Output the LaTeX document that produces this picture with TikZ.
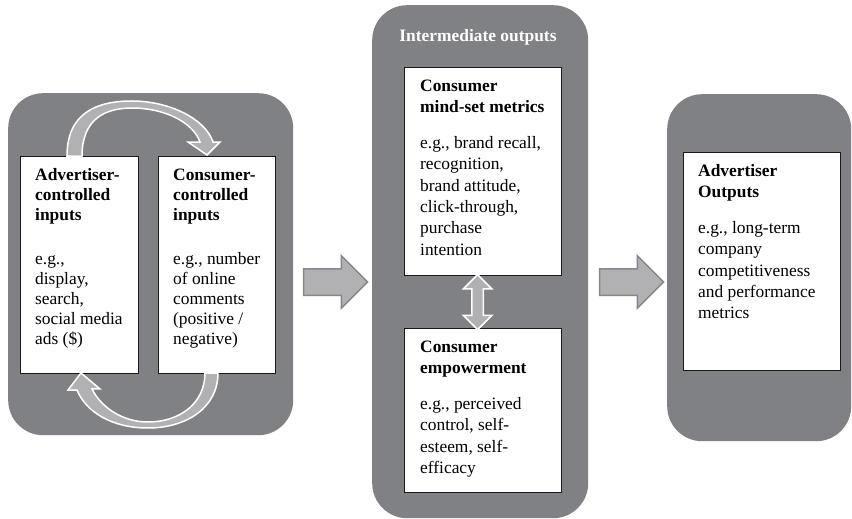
\documentclass[tikz,border=0pt]{standalone}
\usepackage{fontspec}
\setmainfont{Liberation Serif}
\usetikzlibrary{shapes.arrows,calc}
\newlength{\du}
\setlength{\du}{15\unitlength}

\begin{document}
\begin{tikzpicture}[x=1\du,y=-1\du,
  panel/.style={fill=panelcolor,draw=none,rounded corners=2.333\du,anchor=north west,inner sep=0pt},
  box/.style={draw=boxcolor,line width=1.3pt,fill=white,anchor=north west,inner sep=0pt},
  boxtext/.style={anchor=base west,inner sep=0pt,align=left},
  blockarrow/.style={single arrow,single arrow head extend=13pt,minimum height=64pt,inner xsep=0pt,inner ysep=12.5pt,fill=arrowcolor,draw=arrowedge,line width=1.5pt},
  dblarrow/.style={double arrow,double arrow head extend=8.5pt,minimum height=55pt,inner xsep=0pt,inner ysep=5pt,fill=arrowcolor,draw=white,line width=1.5pt},
  curvedarrow/.style={fill=arrowcolor,draw=white,line width=1.5pt,line join=miter}]
\definecolor{panelcolor}{rgb}{0.502000, 0.506000, 0.522000}
\definecolor{arrowcolor}{rgb}{0.694000, 0.694000, 0.706000}
\definecolor{arrowedge}{rgb}{0.525000, 0.529000, 0.545000}
\definecolor{boxcolor}{rgb}{0.100000, 0.100000, 0.100000}
\fill[white] (0,0) rectangle (56.8,34.6);
\useasboundingbox (0,0) rectangle (56.8,34.6);
\node[panel,minimum width=19.0\du,minimum height=22.8\du] (inpanel) at (0.533,6.2) {};
\node[panel,minimum width=14.4\du,minimum height=34.2\du] (midpanel) at (24.8,0.333) {};
\node[panel,minimum width=12.267\du,minimum height=23.133\du] (outpanel) at (44.467,6.267) {};
\node[anchor=base,inner sep=0pt,text=white,font=\bfseries\fontsize{17.4}{20}\selectfont] (midtitle) at (31.867,2.767) {Intermediate outputs};
\node[box,minimum width=7.867\du,minimum height=14.467\du] (advbox) at (1.333,10.4) {};
\node[box,minimum width=7.8\du,minimum height=14.467\du] (conbox) at (10.533,10.4) {};
\node[box,minimum width=10.467\du,minimum height=13.867\du] (mindbox) at (26.933,4.467) {};
\node[box,minimum width=10.467\du,minimum height=10.933\du] (empbox) at (26.933,21.867) {};
\node[box,minimum width=10.467\du,minimum height=14.533\du] (outbox) at (45.533,10.133) {};
\node[boxtext,font=\fontsize{17.4}{20}\selectfont] (advtext) at ($(advbox.north west)+(1.0,1.633)$) {\parbox[t]{7\du}{{\bfseries Advertiser-\\controlled\\inputs}\\[24pt]e.g.,\\display,\\search,\\social media\\ads (\$)}};
\node[boxtext,font=\fontsize{17.4}{20}\selectfont] (context) at ($(conbox.north west)+(1.0,1.633)$) {\parbox[t]{7\du}{{\bfseries Consumer-\\controlled\\inputs}\\[24pt]e.g., number\\of online\\comments\\(positive /\\negative)}};
\node[boxtext,font=\fontsize{17.4}{21.3}\selectfont] (mindtext) at ($(mindbox.north west)+(1.067,1.633)$) {\parbox[t]{9.5\du}{{\bfseries Consumer\\mind-set metrics}\\[14.5pt]e.g., brand recall,\\recognition,\\brand attitude,\\click-through,\\purchase\\intention}};
\node[boxtext,font=\fontsize{17.4}{21.3}\selectfont] (emptext) at ($(empbox.north west)+(1.067,1.633)$) {\parbox[t]{9.5\du}{{\bfseries Consumer\\empowerment}\\[14.5pt]e.g., perceived\\control, self-\\esteem, self-\\efficacy}};
\node[boxtext,font=\fontsize{17.4}{21.3}\selectfont] (outtext) at ($(outbox.north west)+(1.0,1.633)$) {\parbox[t]{9.5\du}{{\bfseries Advertiser\\Outputs}\\[14.5pt]e.g., long-term\\company\\competitiveness\\and performance\\metrics}};
\node[blockarrow] (arrowin) at (21.933,18.8) {};
\node[blockarrow] (arrowout) at (41.667,18.8) {};
\node[dblarrow,rotate=90] (mindarrow) at ($(mindbox.south)!0.5!(empbox.north)+(-0.367,0)$) {};
\filldraw[curvedarrow] (4.467,10.4) .. controls (4.467,7.467) and (6.533,6.733) .. (8.8,6.733) .. controls (11.2,6.733) and (13.667,7.867) .. (14.2,9.467) -- (14.667,9.467) -- (13.8,10.333) -- (12.533,9.467) -- (13.333,9.467) .. controls (12.867,8.133) and (10.933,7.2) .. (8.8,7.2) .. controls (6.933,7.2) and (5.467,8.0) .. (5.467,10.4) -- cycle;
\filldraw[curvedarrow] (14.533,24.867) .. controls (14.533,27.2) and (12.4,28.533) .. (9.867,28.533) .. controls (7.467,28.533) and (5.733,27.467) .. (5.133,26.0) -- (4.533,26.0) -- (5.4,24.867) -- (6.667,25.933) -- (6.133,25.933) .. controls (6.733,27.133) and (8.133,28.133) .. (9.867,28.133) .. controls (12.0,28.133) and (13.667,26.867) .. (13.667,24.867) -- cycle;
\end{tikzpicture}
\end{document}
